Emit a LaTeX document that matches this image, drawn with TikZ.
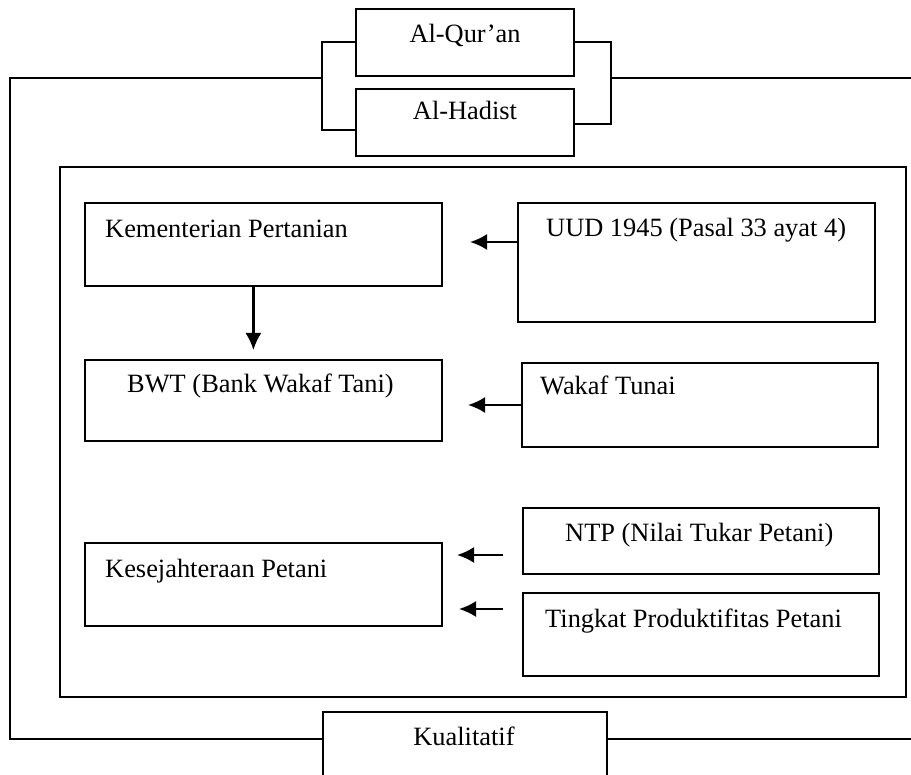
\documentclass[tikz,border=0pt]{standalone}
\usepackage{fontspec}
\setmainfont{Liberation Serif}
\usetikzlibrary{arrows.meta}
\begin{document}
\begin{tikzpicture}[x=1pt,y=-1pt,
  kotak/.style={draw,line width=1.8pt,inner sep=0pt,anchor=north west},
  teks/.style={inner sep=0pt,anchor=base west,font=\fontsize{26.4}{30}\selectfont},
  panah/.style={line width=2.2pt,-{Latex[length=17pt,width=16pt]}},
  garis/.style={line width=1.8pt}]
 \clip (0,0) rectangle (911,775);
 % dasar hukum
 \node [kotak,minimum width=218,minimum height=67] (quran) at (355,8) {};
 \node [kotak,minimum width=218,minimum height=67] (hadist) at (355,88) {};
 \node [teks,anchor=base] (tquran) at (465,43) {Al-Qur’an};
 \node [teks,anchor=base] (thadist) at (465,120) {Al-Hadist};
 \coordinate (kiriatas) at (322,78);
 \coordinate (kananatas) at (611,78);
 \coordinate (bawah) at (0,739);
 \draw [garis] (quran.west) -| (kiriatas) |- ([yshift=-8pt]hadist.west);
 \draw [garis] (quran.east) -| (kananatas) |- ([yshift=-2pt]hadist.east);
 % bingkai luar
 \node [kotak,minimum width=284,minimum height=90] (kualitatif) at (322,711) {};
 \node [teks,anchor=base] (tkualitatif) at (464,745) {Kualitatif};
 \draw [garis] (kiriatas) -- (10,78) -- (10,739) -- (kualitatif.west |- bawah);
 \draw [garis] (kualitatif.east |- bawah) -- (911,739);
 \draw [garis] (kananatas) -- (911,78);
 % bingkai dalam
 \node [kotak,minimum width=846,minimum height=530] (bingkai) at (59,166) {};
 % kolom kiri
 \node [kotak,minimum width=357,minimum height=83] (kementerian) at (84,202) {};
 \node [kotak,minimum width=357,minimum height=81] (bwt) at (84,359) {};
 \node [kotak,minimum width=357,minimum height=83] (sejahtera) at (84,542) {};
 \node [teks] (tkementerian) at (105,238) {Kementerian Pertanian};
 \node [teks] (tbwt) at (127,393) {BWT (Bank Wakaf Tani)};
 \node [teks] (tsejahtera) at (105,577) {Kesejahteraan Petani};
 % kolom kanan
 \node [kotak,minimum width=357,minimum height=119] (uud) at (517,202) {};
 \node [kotak,minimum width=356,minimum height=84] (wakaf) at (521,362) {};
 \node [kotak,minimum width=356,minimum height=66] (ntp) at (522,507) {};
 \node [kotak,minimum width=356,minimum height=83] (produktif) at (522,592) {};
 \node [teks] (tuud) at (546,237) {UUD 1945 (Pasal 33 ayat 4)};
 \node [teks] (twakaf) at (540,395) {Wakaf Tunai};
 \node [teks] (tntp) at (565,542) {NTP (Nilai Tukar Petani)};
 \node [teks] (tproduktif) at (545,627) {Tingkat Produktifitas Petani};
 % panah
 \coordinate (u1) at (470,242);
 \coordinate (u2) at (468,405);
 \coordinate (p3) at (503,555);
 \coordinate (u3) at (457,555);
 \coordinate (p4) at (503,609);
 \coordinate (u4) at (459,609);
 \draw [panah] (uud.west |- u1) -- (u1);
 \draw [panah] (wakaf.west |- u2) -- (u2);
 \draw [panah] (p3) -- (u3);
 \draw [panah] (p4) -- (u4);
 \draw [panah] ([xshift=-10pt]kementerian.south) -- ([xshift=-10pt,yshift=9pt]bwt.north);
\end{tikzpicture}
\end{document}
